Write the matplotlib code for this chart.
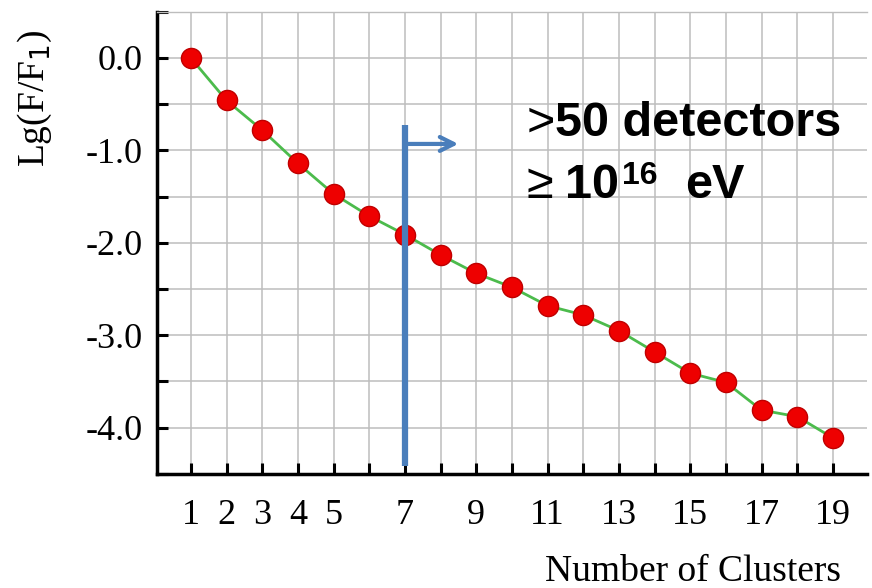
import numpy as np
import matplotlib
matplotlib.use("Agg")
import matplotlib.pyplot as plt

# number of clusters and the log of the relative flux
clusters = list(range(1, 20))
lg_flux = [0.0, -0.46, -0.78, -1.14, -1.47, -1.71, -1.91, -2.13, -2.33, -2.48,
           -2.68, -2.78, -2.95, -3.18, -3.41, -3.51, -3.81, -3.88, -4.11]
xtick_pos = [1, 2, 3, 4, 5, 7, 9, 11, 13, 15, 17, 19]
ytick_pos = [0.0, -1.0, -2.0, -3.0, -4.0]
cut = 7  # threshold cluster count

plt.rcParams["font.family"] = ["Liberation Serif", "DejaVu Serif"]

fig = plt.figure(figsize=(8.72, 5.88), dpi=100)
ax = fig.add_axes([0.18, 0.194, 0.814, 0.786])

ax.set_xlim(0.05, 19.95)
ax.set_ylim(-4.5, 0.5)

# grid
for x in clusters:
    ax.axvline(x, color="#bdbdbd", lw=1.1, zorder=0)
for y in np.arange(-4.5, 0.51, 0.5):
    ax.axhline(y, color="#bdbdbd", lw=1.1, zorder=0)

ax.plot(clusters, lg_flux, color="#4cbb4c", lw=2, zorder=2)
ax.plot(clusters, lg_flux, "o", ms=14.5, mfc="#ee0000", mec="#c00000", mew=1,
        zorder=3)

# threshold line with arrow
ax.plot([cut, cut], [-4.41, -0.73], color="#4a7ebb", lw=4.5, zorder=4,
        solid_capstyle="butt")
ax.annotate("", xy=(8.5, -0.93), xytext=(cut, -0.93),
            arrowprops=dict(arrowstyle="->", color="#4a7ebb", lw=3,
                            mutation_scale=25, shrinkA=0, shrinkB=0),
            zorder=4)

sans = "Liberation Sans"
ax.text(10.42, -0.84, ">", fontsize=35, family=sans, va="baseline")
ax.text(11.2, -0.84, "50 detectors", fontsize=35, family=sans,
        fontweight="bold", va="baseline")
ax.text(10.42, -1.51, "\u2265", fontsize=35, family=[sans, "DejaVu Sans"],
        va="baseline")
ax.text(11.49, -1.51, "10", fontsize=35, family=sans, fontweight="bold",
        va="baseline")
ax.text(13.1, -1.36, "16", fontsize=23, family=sans, fontweight="bold",
        va="baseline")
ax.text(14.85, -1.51, "eV", fontsize=35, family=sans, fontweight="bold",
        va="baseline")

ax.set_xticks(clusters)
ax.set_xticklabels([str(c) if c in xtick_pos else "" for c in clusters])
ax.set_yticks(ytick_pos)
ax.set_yticklabels(["%.1f" % v for v in ytick_pos])
ax.set_yticks(np.arange(-4.5, 0.51, 0.5), minor=True)
ax.tick_params(axis="both", direction="in", length=8, width=2.2,
               labelsize=26, pad=10)
ax.tick_params(axis="y", which="minor", direction="in", length=8, width=2.2)
ax.tick_params(axis="x", pad=18)

for side in ["left", "bottom"]:
    ax.spines[side].set_linewidth(2.5)
ax.spines["right"].set_visible(False)
ax.spines["top"].set_color("#bdbdbd")
ax.spines["top"].set_linewidth(1)

fig.text(0.04, 0.833, "Lg(F/F$_1$)", rotation=90, fontsize=27,
         ha="center", va="center")
fig.text(0.795, 0.027, "Number of Clusters", fontsize=27, ha="center",
         va="center")

fig.savefig("out.png", dpi=100)
